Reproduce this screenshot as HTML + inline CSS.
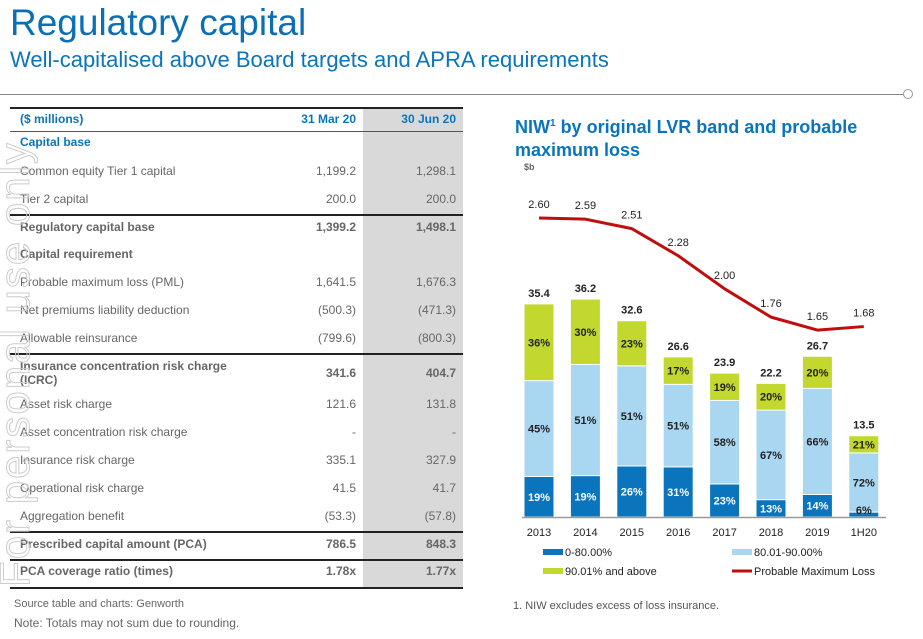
<!DOCTYPE html>
<html><head><meta charset="utf-8">
<style>
body{margin:0;width:923px;height:639px;background:#fff;font-family:"Liberation Sans",Arial,sans-serif;position:relative;overflow:hidden}
.a{position:absolute;white-space:nowrap}
.t{font-size:12px;color:#666}
.b{font-weight:bold}
.bl{color:#0a75bd;font-weight:bold}
.hl{position:absolute;left:10px;width:453px;height:0}
</style></head><body>
<div class="a" style="left:10px;top:2px;font-size:37px;color:#0a6fb5">Regulatory capital</div>
<div class="a" style="left:10px;top:47px;font-size:22px;color:#0a75bd">Well-capitalised above Board targets and APRA requirements</div>
<div class="a" style="left:0;top:94px;width:903px;border-top:1px solid #888"></div>
<div class="a" style="left:903px;top:89px;width:8px;height:8px;border:1px solid #999;border-radius:50%;background:#fff"></div>

<div>
<div class="a" style="left:363px;top:107px;width:100px;height:481px;background:#d9d9d9"></div>
<div class="hl" style="top:107px;border-top:2px solid #222"></div>
<div class="hl" style="top:131px;border-top:1px solid #555"></div>
<div class="hl" style="top:214px;border-top:2px solid #222"></div>
<div class="hl" style="top:353px;border-top:2px solid #222"></div>
<div class="hl" style="top:531px;border-top:2px solid #222"></div>
<div class="hl" style="top:559px;border-top:2px solid #222"></div>
<div class="hl" style="top:587px;border-top:2px solid #222"></div>
<div id="rows"></div>
</div>

<div class="a" style="left:-255px;top:340px;width:540px;transform:rotate(-90deg);font-size:42px;letter-spacing:2px;color:transparent;-webkit-text-stroke:1px #ccc;text-align:center">For personal use only</div>

<div class="a t" style="left:14px;top:598px;font-size:11px">Source table and charts: Genworth</div>
<div class="a t" style="left:14px;top:616px;font-size:12px">Note: Totals may not sum due to rounding.</div>

<div class="a" style="left:515px;top:112px;font-size:18px;font-weight:bold;color:#0a75bd;line-height:23px">NIW<sup style="font-size:10px">1</sup> by original LVR band and probable<br>maximum loss</div>
<div class="a" style="left:524px;top:162px;font-size:9px;font-weight:bold;color:#666">$b</div>
<svg class="a" style="left:0;top:0" width="923" height="639" id="chart"></svg>
<div class="a" style="left:513px;top:600px;font-size:11px;color:#555">1. NIW excludes excess of loss insurance.</div>

<script>
const rows=[
["($ millions)","31 Mar 20","30 Jun 20",120,"h"],
["Capital base","","",143,"s"],
["Common equity Tier 1 capital","1,199.2","1,298.1",172,""],
["Tier 2 capital","200.0","200.0",200,""],
["Regulatory capital base","1,399.2","1,498.1",228,"b"],
["Capital requirement","","",255,"b"],
["Probable maximum loss (PML)","1,641.5","1,676.3",283,""],
["Net premiums liability deduction","(500.3)","(471.3)",311,""],
["Allowable reinsurance","(799.6)","(800.3)",339,""],
["Insurance concentration risk charge<br>(ICRC)","341.6","404.7",374,"b2"],
["Asset risk charge","121.6","131.8",405,""],
["Asset concentration risk charge","-","-",433,""],
["Insurance risk charge","335.1","327.9",461,""],
["Operational risk charge","41.5","41.7",489,""],
["Aggregation benefit","(53.3)","(57.8)",517,""],
["Prescribed capital amount (PCA)","786.5","848.3",545,"b"],
["PCA coverage ratio (times)","1.78x","1.77x",572,"b"]];
let h='';
rows.forEach((r,i)=>{
 const cls=r[4]=='h'||r[4]=='s'?'bl':(r[4].startsWith('b')?'b':'');
 const top=r[3]-(r[4]=='b2'?15:8);
 const vtop=r[3]-8;
 h+=`<div class="a t ${cls}" style="left:20px;top:${top}px;line-height:14px">${r[0]}</div>`;
 if(r[1])h+=`<div class="a t ${cls}" style="left:0;top:${vtop}px;width:356px;text-align:right">${r[1]}</div>`;
 if(r[2])h+=`<div class="a t ${cls}" style="left:0;top:${vtop}px;width:456px;text-align:right">${r[2]}</div>`;
});
document.getElementById('rows').innerHTML=h;

const years=["2013","2014","2015","2016","2017","2018","2019","1H20"];
const totals=[35.4,36.2,32.6,26.6,23.9,22.2,26.7,13.5];
const low=[19,19,26,31,23,13,14,6];
const mid=[45,51,51,51,58,67,66,72];
const high=[36,30,23,17,19,20,20,21];
const pml=[2.60,2.59,2.51,2.28,2.00,1.76,1.65,1.68];
const pmlLabels=["2.60","2.59","2.51","2.28","2.00","1.76","1.65","1.68"];

const svg=document.getElementById('chart');const NS='http://www.w3.org/2000/svg';
const base=517;const x=i=>539+i*46.4;const yb=v=>base-v*6.02;const yl=v=>218-(v-2.60)*118;
function mk(t,a,txt){const e=document.createElementNS(NS,t);for(const k in a)e.setAttribute(k,a[k]);if(txt!=null)e.textContent=txt;svg.appendChild(e);return e;}
const cols=['#0a75bd','#a9d7f1','#c2d82e'];const tcol=['#fff','#222','#222'];
const labels=[];
years.forEach((yr,i)=>{
 const segs=[low[i],mid[i],high[i]];const sum=segs[0]+segs[1]+segs[2];
 let acc=0;
 segs.forEach((p,j)=>{
  const v0=totals[i]*acc/sum,v1=totals[i]*(acc+p)/sum;acc+=p;
  const r=mk('rect',{x:x(i)-15,y:yb(v1),width:30,height:yb(v0)-yb(v1),fill:cols[j],stroke:'#fff','stroke-width':1});
  
  
  let ty=(yb(v0)+yb(v1))/2+4;let fc=tcol[j];
  if(yb(v0)-yb(v1)<12){ty=base-3;fc='#222';}
  labels.push([x(i),ty,fc,p+'%']);
 });
 const tl=mk('text',{x:x(i),y:yb(totals[i])-7,'text-anchor':'middle','font-size':11,'font-weight':'bold',fill:'#222'},totals[i].toFixed(1));
 
 
 const xl=mk('text',{x:x(i),y:536,'text-anchor':'middle','font-size':11,fill:'#222'},yr);
 
 
 const pl=mk('text',{x:x(i),y:yl(pml[i])-10,'text-anchor':'middle','font-size':11,fill:'#222'},pmlLabels[i]);
 
 
});
labels.forEach(l=>{
 const t=mk('text',{x:l[0],y:l[1],'text-anchor':'middle','font-size':11,'font-weight':'bold',fill:l[2]},l[3]);
 
 
});
const ax=mk('line',{x1:522,x2:886,y1:base+0.5,y2:base+0.5,stroke:'#999','stroke-width':1.5});


const ln=mk('polyline',{points:pml.map((v,i)=>x(i)+','+yl(v)).join(' '),fill:'none',stroke:'#c00d0d','stroke-width':3,'stroke-linejoin':'round'});


const leg=[[543,552,'#0a75bd','0-80.00%','r'],[732,552,'#a9d7f1','80.01-90.00%','r'],[543,571,'#c2d82e','90.01% and above','r'],[732,571,'#c00d0d','Probable Maximum Loss','l']];
leg.forEach(l=>{
 const m=l[4]=='r'?mk('rect',{x:l[0],y:l[1]-3,width:20,height:6,fill:l[2]}):mk('line',{x1:l[0],x2:l[0]+20,y1:l[1],y2:l[1],stroke:l[2],'stroke-width':3});
 
 
 const t=mk('text',{x:l[0]+22,y:l[1]+4,'font-size':11,fill:'#222'},l[3]);
 
 
});
</script>
</body></html>
